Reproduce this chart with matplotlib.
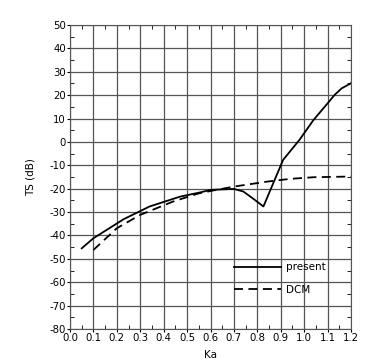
import numpy as np
import matplotlib.pyplot as plt
from matplotlib.ticker import MultipleLocator

# Daten
ka_present = [0.05, 0.10, 0.23, 0.34, 0.47, 0.56, 0.60, 0.70, 0.74, 0.78, 0.826, 0.91, 0.98, 1.04, 1.10, 1.13, 1.16, 1.20]
ts_present = [-45.5, -41.2, -33.0, -27.6, -23.4, -21.5, -20.5, -20.1, -21.2, -24.1, -27.6, -7.7, 0.9, 9.4, 16.5, 20.1, 22.9, 25.1]

ka_dcm = [0.10, 0.20, 0.30, 0.44, 0.55, 0.62, 0.70, 0.84, 0.94, 1.04, 1.20]
ts_dcm = [-46.2, -36.9, -31.2, -25.5, -22.0, -20.6, -19.1, -17.0, -15.8, -15.1, -14.8]

xticks = np.round(np.arange(0, 1.21, 0.1), 1)
yticks = np.arange(-80, 51, 10)

fig = plt.figure(figsize=(3.9, 3.64), dpi=100)
ax = fig.add_axes([0.1795, 0.0962, 0.7205, 0.8351])

ax.plot(ka_present, ts_present, color='black', lw=1.3, label='present')
ax.plot(ka_dcm, ts_dcm, color='black', lw=1.3, ls=(0, (5, 3)), label='DCM')

ax.set_xlim(0, 1.2)
ax.set_ylim(-80, 50)
ax.set_xticks(xticks)
ax.set_xticklabels([f'{v:.1f}' for v in xticks])
ax.set_yticks(yticks)
ax.set_yticklabels([f'{v}' for v in yticks])
ax.xaxis.set_minor_locator(MultipleLocator(0.05))
ax.yaxis.set_minor_locator(MultipleLocator(5))
ax.grid(True, which='major', color='#555555', lw=0.9)
ax.tick_params(which='major', direction='out', length=2, labelsize=7.3, pad=1)
ax.tick_params(which='minor', direction='in', length=3, top=True, right=True)
for s in ax.spines.values():
    s.set_color('#555555')

ax.set_xlabel('Ka', fontsize=7.5, labelpad=5)
ax.set_ylabel('TS (dB)', fontsize=7.5, labelpad=10)

ax.legend(loc='upper left', bbox_to_anchor=(0.55, 0.25), frameon=False,
          fontsize=7.5, handlelength=4.5, labelspacing=1.2, handletextpad=0.5)

plt.savefig('out.png', dpi=100)
